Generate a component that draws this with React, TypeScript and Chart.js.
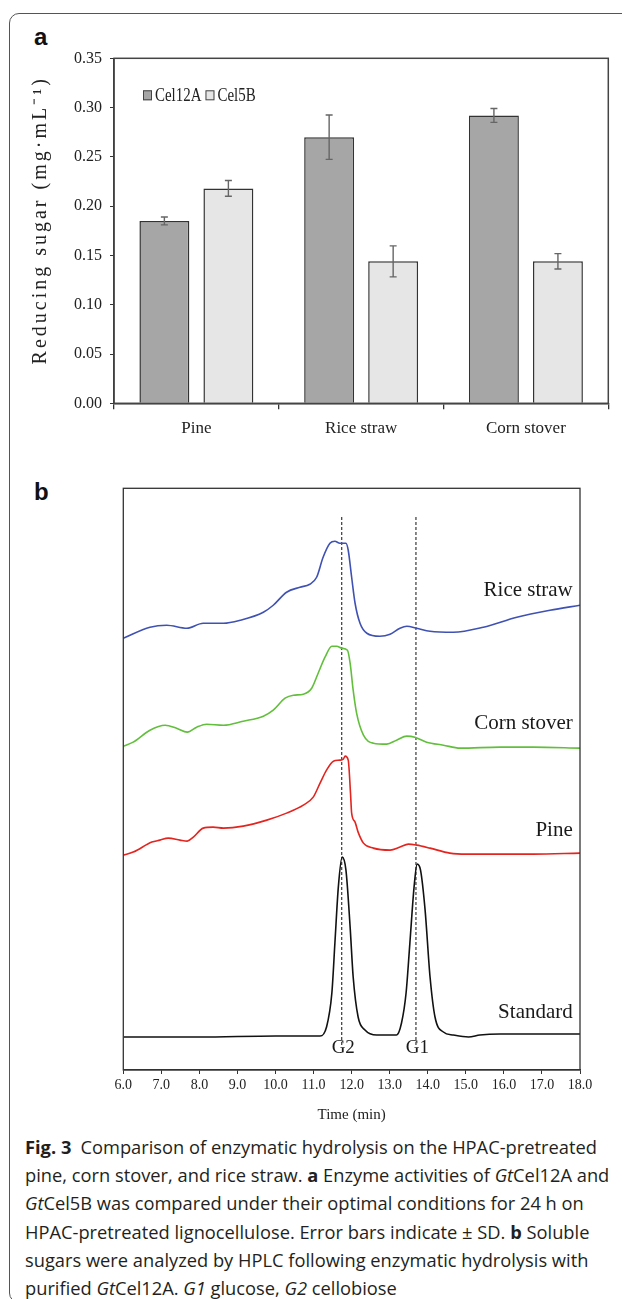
import React, { useEffect, useRef } from 'react';
import { Chart, registerables } from 'chart.js';

Chart.register(...registerables);

const SERIF = '"Liberation Serif", "Times New Roman", serif';
const SANS = '"Open Sans", "Noto Sans", sans-serif';

// ---------- Panel a data ----------
const categories = ['Pine', 'Rice straw', 'Corn stover'];
const seriesNames = ['Cel12A', 'Cel5B'];
const cel12AMeans = [0.185, 0.27, 0.292];
const cel12ASD = [0.004, 0.0225, 0.007];
const cel5BMeans = [0.218, 0.144, 0.144];
const cel5BSD = [0.008, 0.0157, 0.0078];
const yAxisA = { min: 0, max: 0.35, step: 0.05 };
const yTitleA = 'Reducing sugar (mg·mL⁻¹)';

// ---------- Panel b data ----------
const riceTime = [6.0, 6.7, 7.14, 7.67, 8.1, 8.63, 9.07, 9.68, 9.94, 10.29, 10.64, 10.9, 11.08, 11.25, 11.43, 11.56, 11.69, 11.85, 11.91, 12.0, 12.09, 12.22, 12.4, 12.74, 13.01, 13.27, 13.45, 13.71, 14.06, 14.67, 15.46, 16.34, 17.21, 18.0];
const riceSignal = [432, 443, 445, 442, 447, 447, 450, 458, 465, 478, 483, 486, 493, 513, 527, 529, 527, 527, 520, 493, 467, 447, 437, 434, 436, 442, 444, 442, 439, 438, 443, 453, 460, 465];

const cornTime = [6.0, 6.26, 6.7, 7.1, 7.4, 7.68, 7.93, 8.19, 8.63, 9.15, 9.68, 9.94, 10.25, 10.47, 10.73, 10.95, 11.12, 11.3, 11.48, 11.61, 11.74, 11.89, 11.96, 12.04, 12.13, 12.31, 12.57, 12.92, 13.18, 13.45, 13.66, 13.97, 14.41, 14.85, 15.9, 16.77, 18.0];
const cornSignal = [324, 328, 340, 345, 342, 338, 343, 346, 345, 349, 354, 360, 372, 375, 376, 382, 397, 413, 424, 424, 422, 420, 407, 380, 357, 335, 327, 326, 330, 334, 333, 328, 325, 322, 323, 323, 322];

const pineTime = [6.0, 6.26, 6.75, 6.96, 7.18, 7.49, 7.68, 7.84, 8.1, 8.36, 8.63, 9.15, 9.77, 10.29, 10.73, 10.99, 11.17, 11.34, 11.52, 11.69, 11.78, 11.83, 11.91, 11.97, 12.0, 12.09, 12.17, 12.31, 12.57, 13.01, 13.27, 13.49, 13.71, 14.06, 14.58, 15.02, 15.9, 16.77, 18.0];
const pineSignal = [215, 218, 228, 230, 232, 230, 229, 233, 242, 243, 242, 244, 250, 257, 265, 273, 287, 300, 309, 310, 311, 314, 310, 277, 257, 248, 238, 227, 222, 220, 223, 226, 225, 222, 217, 216, 216, 216, 217];

const stdTime = [6.0, 8.0, 10.0, 11.0, 11.17, 11.34, 11.48, 11.56, 11.65, 11.75, 11.85, 11.96, 12.04, 12.17, 12.35, 12.66, 13.18, 13.31, 13.43, 13.53, 13.64, 13.72, 13.81, 13.93, 14.06, 14.19, 14.41, 14.67, 15.07, 15.37, 15.9, 16.77, 18.0];
const stdSignal = [33, 33, 34, 34, 34, 43, 77, 127, 183, 213, 200, 143, 93, 53, 40, 35, 35, 47, 77, 127, 183, 206, 200, 160, 93, 53, 38, 35, 33, 35, 36, 36, 36];

const traceNames = ['Rice straw', 'Corn stover', 'Pine', 'Standard'];
const traceLabelY = [480, 347, 240, 58];
const traceLabelX = 17.81;
const markerNames = ['G2', 'G1'];
const markerTimes = [11.74, 13.69];
const markerRange = [25, 555];
const markerLabelY = 22;
const xAxisB = { min: 6, max: 18, step: 1 };
const yAxisB = { min: 0, max: 582 };
const xTitleB = 'Time (min)';

const captionLines: React.ReactNode[] = [
  <><b style={{ fontWeight: 700 }}>Fig. 3</b>{'\u2002'}Comparison of enzymatic hydrolysis on the HPAC-pretreated</>,
  <>pine, corn stover, and rice straw. <b>a</b> Enzyme activities of <i>Gt</i>Cel12A and</>,
  <><i>Gt</i>Cel5B was compared under their optimal conditions for 24 h on</>,
  <>HPAC-pretreated lignocellulose. Error bars indicate ± SD. <b>b</b> Soluble</>,
  <>sugars were analyzed by HPLC following enzymatic hydrolysis with</>,
  <>purified <i>Gt</i>Cel12A. <i>G1</i> glucose, <i>G2</i> cellobiose</>,
];

const frameA = {
  id: 'frameA',
  afterDraw(chart: any) {
    const { ctx, chartArea: a } = chart;
    ctx.save();
    ctx.strokeStyle = '#444';
    ctx.lineWidth = 1.5;
    ctx.strokeRect(a.left, a.top, a.right - a.left, a.bottom - a.top);
    ctx.restore();
  },
};

const errorBarsA = {
  id: 'errorBarsA',
  afterDatasetsDraw(chart: any) {
    const { ctx } = chart;
    const yS = chart.scales.y;
    const sds = [cel12ASD, cel5BSD];
    ctx.save();
    ctx.strokeStyle = '#666';
    ctx.lineWidth = 1.4;
    chart.data.datasets.forEach((ds: any, i: number) => {
      const meta = chart.getDatasetMeta(i);
      meta.data.forEach((bar: any, j: number) => {
        const v = ds.data[j];
        const sd = sds[i][j];
        const yTop = yS.getPixelForValue(v + sd);
        const yBot = yS.getPixelForValue(v - sd);
        const x = bar.x;
        ctx.beginPath();
        ctx.moveTo(x, yTop); ctx.lineTo(x, yBot);
        ctx.moveTo(x - 3.5, yTop); ctx.lineTo(x + 3.5, yTop);
        ctx.moveTo(x - 3.5, yBot); ctx.lineTo(x + 3.5, yBot);
        ctx.stroke();
      });
    });
    ctx.restore();
  },
};

const legendA = {
  id: 'legendA',
  afterDraw(chart: any) {
    const { ctx, chartArea: a } = chart;
    let x = a.left + 29;
    const yc = a.top + 37;
    ctx.save();
    ctx.font = `18px ${SERIF}`;
    ctx.textBaseline = 'middle';
    ctx.textAlign = 'left';
    chart.data.datasets.forEach((ds: any) => {
      ctx.fillStyle = ds.backgroundColor;
      ctx.fillRect(x, yc - 5, 9, 10);
      ctx.strokeStyle = '#444';
      ctx.lineWidth = 1;
      ctx.strokeRect(x + 0.5, yc - 4.5, 8, 9);
      x += 12;
      ctx.fillStyle = '#222';
      const w = ctx.measureText(ds.label).width * 0.83;
      ctx.save();
      ctx.translate(x, yc + 1);
      ctx.scale(0.83, 1);
      ctx.fillText(ds.label, 0, 0);
      ctx.restore();
      x += w + 4;
    });
    ctx.restore();
  },
};

const yTitlePluginA = {
  id: 'yTitleA',
  afterDraw(chart: any) {
    const { ctx, chartArea: a } = chart;
    ctx.save();
    ctx.translate(a.left - 73, a.top + 162);
    ctx.rotate(-Math.PI / 2);
    ctx.font = `20px ${SERIF}`;
    (ctx as any).letterSpacing = '3px';
    ctx.textAlign = 'center';
    ctx.textBaseline = 'middle';
    ctx.fillStyle = '#222';
    ctx.fillText(yTitleA, 0, 0);
    ctx.restore();
  },
};

const frameB = {
  id: 'frameB',
  afterDraw(chart: any) {
    const { ctx, chartArea: a } = chart;
    ctx.save();
    ctx.strokeStyle = '#333';
    ctx.lineWidth = 1.3;
    ctx.strokeRect(a.left, a.top, a.right - a.left, a.bottom - a.top);
    ctx.restore();
  },
};

const labelsB = {
  id: 'labelsB',
  afterDraw(chart: any) {
    const { ctx } = chart;
    const xs = chart.scales.x;
    const ys = chart.scales.y;
    ctx.save();
    ctx.fillStyle = '#1a1a1a';
    ctx.textBaseline = 'middle';
    ctx.font = `21px ${SERIF}`;
    ctx.textAlign = 'right';
    traceNames.forEach((n, i) => {
      ctx.fillText(n, xs.getPixelForValue(traceLabelX), ys.getPixelForValue(traceLabelY[i]));
    });
    ctx.font = `19px ${SERIF}`;
    ctx.textAlign = 'center';
    markerNames.forEach((n, i) => {
      ctx.fillText(n, xs.getPixelForValue(markerTimes[i]) + 1.5, ys.getPixelForValue(markerLabelY));
    });
    ctx.restore();
  },
};

function zip(t: number[], v: number[]) {
  return t.map((x, i) => ({ x, y: v[i] }));
}

function PanelA() {
  const ref = useRef<HTMLCanvasElement>(null);
  useEffect(() => {
    const chart = new Chart(ref.current!, {
      type: 'bar',
      data: {
        labels: categories,
        datasets: [
          { label: seriesNames[0], data: cel12AMeans, backgroundColor: '#a6a6a6', borderColor: '#333', borderWidth: 1.5, categoryPercentage: 0.777, barPercentage: 0.78 },
          { label: seriesNames[1], data: cel5BMeans, backgroundColor: '#e6e6e6', borderColor: '#333', borderWidth: 1.5, categoryPercentage: 0.777, barPercentage: 0.78 },
        ],
      },
      options: {
        responsive: false,
        animation: false,
        devicePixelRatio: 1,
        layout: { padding: { left: 0, top: 18.3, right: 13.7, bottom: 0 } },
        plugins: { legend: { display: false }, tooltip: { enabled: false } },
        scales: {
          x: {
            grid: { display: true, drawOnChartArea: false, drawTicks: true, tickLength: 6, color: '#333', offset: true, lineWidth: 1.3 },
            border: { color: '#333', width: 1.5 },
            ticks: { font: { family: SERIF, size: 17 }, color: '#222', padding: 9 },
            afterFit: (s: any) => { s.height = 56.7; },
          },
          y: {
            min: yAxisA.min,
            max: yAxisA.max,
            grid: { display: true, drawOnChartArea: false, drawTicks: true, tickLength: 4, color: '#333' },
            border: { color: '#333', width: 1.5 },
            ticks: { stepSize: yAxisA.step, callback: (v: any) => Number(v).toFixed(2), font: { family: SERIF, size: 16 }, color: '#222', padding: 8 },
            afterFit: (s: any) => { s.width = 114; },
          },
        },
      },
      plugins: [frameA, errorBarsA, legendA, yTitlePluginA],
    } as any);
    return () => chart.destroy();
  }, []);
  return <canvas ref={ref} width={622} height={420} style={{ position: 'absolute', left: 0, top: 40, width: 622, height: 420 }} />;
}

function PanelB() {
  const ref = useRef<HTMLCanvasElement>(null);
  useEffect(() => {
    const lineBase = { borderWidth: 1.6, pointRadius: 0, fill: false, cubicInterpolationMode: 'monotone' };
    const chart = new Chart(ref.current!, {
      type: 'line',
      data: {
        datasets: [
          { ...lineBase, label: traceNames[0], data: zip(riceTime, riceSignal), borderColor: '#3f52b3' },
          { ...lineBase, label: traceNames[1], data: zip(cornTime, cornSignal), borderColor: '#62bf3c' },
          { ...lineBase, label: traceNames[2], data: zip(pineTime, pineSignal), borderColor: '#e3241f' },
          { ...lineBase, label: traceNames[3], data: zip(stdTime, stdSignal), borderColor: '#111' },
          ...markerTimes.map((t, i) => ({
            label: markerNames[i],
            data: [{ x: t, y: markerRange[0] }, { x: t, y: markerRange[1] }],
            borderColor: '#111',
            borderWidth: 1,
            borderDash: [3, 2],
            pointRadius: 0,
            tension: 0,
            fill: false,
          })),
        ],
      },
      options: {
        responsive: false,
        animation: false,
        devicePixelRatio: 1,
        layout: { padding: { left: 123.3, top: 18.3, right: 42, bottom: 0 } },
        plugins: { legend: { display: false }, tooltip: { enabled: false } },
        scales: {
          x: {
            type: 'linear',
            min: xAxisB.min,
            max: xAxisB.max,
            grid: { display: true, drawOnChartArea: false, drawTicks: true, tickLength: 4, color: '#333' },
            border: { color: '#333', width: 1.3 },
            ticks: { stepSize: xAxisB.step, callback: (v: any) => Number(v).toFixed(1), font: { family: SERIF, size: 14 }, color: '#222', padding: 3, maxRotation: 0, autoSkip: false },
            title: { display: true, text: xTitleB, font: { family: SERIF, size: 15 }, color: '#222', padding: { top: 0, bottom: 6 } },
            afterFit: (s: any) => { s.height = 60; },
          },
          y: { type: 'linear', display: false, min: yAxisB.min, max: yAxisB.max },
        },
      },
      plugins: [frameB, labelsB],
    } as any);
    return () => chart.destroy();
  }, []);
  return <canvas ref={ref} width={622} height={660} style={{ position: 'absolute', left: 0, top: 470, width: 622, height: 660 }} />;
}

export default function App() {
  return (
    <div style={{ position: 'fixed', left: 0, top: 0, width: 622, height: 1299, overflow: 'hidden', background: '#fff' }}>
      <div style={{ position: 'absolute', left: 9, top: 13, width: 700, height: 1290, border: '1px solid #555', borderRadius: 10, boxSizing: 'border-box' }} />
      <div style={{ position: 'absolute', left: 34, top: 25, fontFamily: '"Liberation Sans", Arial, sans-serif', fontWeight: 700, fontSize: 24, lineHeight: '24px', color: '#111' }}>a</div>
      <div style={{ position: 'absolute', left: 34, top: 480, fontFamily: '"Liberation Sans", Arial, sans-serif', fontWeight: 700, fontSize: 24, lineHeight: '24px', color: '#111' }}>b</div>
      <PanelA />
      <PanelB />
      <div style={{ position: 'absolute', left: 25, top: 1133, fontFamily: SANS, fontSize: 18.3, lineHeight: '28.2px', color: '#231f20', whiteSpace: 'nowrap' }}>
        {captionLines.map((l, i) => <div key={i}>{l}</div>)}
      </div>
    </div>
  );
}
